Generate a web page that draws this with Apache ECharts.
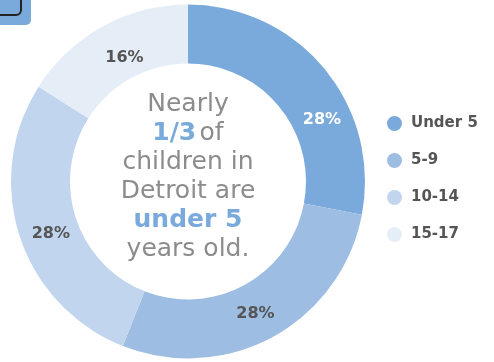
<!DOCTYPE html>
<html>
<head>
<meta charset="utf-8">
<script src="https://cdn.jsdelivr.net/npm/echarts@6/dist/echarts.min.js"></script>
<style>
  html, body { margin: 0; padding: 0; background: #fff; }
  #chart { width: 494px; height: 362px; }
</style>
</head>
<body>
<div id="chart"></div>
<script>
const categories = ["Under 5", "5-9", "10-14", "15-17"]
const shares = [28, 28, 28, 16]
const colors = ["#79aadb", "#9dbde2", "#c1d6ee", "#e5edf7"]

// nudges for the percent labels so they sit where the original puts them
const labelNudge = [[18, 34], [-5, 0], [6, 6], [9, 8]]

const chart = echarts.init(document.getElementById("chart"))

const option = {
  backgroundColor: "#fff",
  animation: false,
  legend: {
    orient: "vertical",
    left: 382,
    top: 111,
    itemWidth: 15,
    itemHeight: 15,
    itemGap: 22,
    icon: "circle",
    data: categories,
    textStyle: {
      fontFamily: "DejaVu Sans",
      fontSize: 15,
      fontWeight: "bold",
      color: "#555",
      padding: [0, 0, 0, 4],
    },
  },
  graphic: [
    {
      type: "rect",
      shape: { x: -10, y: -10, width: 41, height: 35, r: 5 },
      style: { fill: "#7aaadb" },
    },
    {
      type: "rect",
      shape: { x: -10, y: -10, width: 31, height: 25, r: 5 },
      style: { fill: "none", stroke: "#222", lineWidth: 2 },
    },
    {
      type: "text",
      x: 188,
      y: 177,
      style: {
        align: "center",
        verticalAlign: "middle",
        text: "{g|Nearly}\n{b|1/3} {g|of}\n{g|children in}\n{g|Detroit are}\n{b|under 5}\n{g|years old.}",
        rich: {
          g: { fontFamily: "DejaVu Sans", fontSize: 25, fill: "#8c8c8c", lineHeight: 29 },
          b: { fontFamily: "DejaVu Sans", fontSize: 25, fontWeight: "bold", fill: "#79aadb", lineHeight: 29 },
        },
      },
    },
  ],
  series: [
    {
      type: "pie",
      center: [188, 181.5],
      radius: [118, 177],
      startAngle: 90,
      clockwise: true,
      silent: true,
      label: {
        show: true,
        position: "inside",
        formatter: "{c}%",
        fontFamily: "DejaVu Sans",
        fontSize: 16,
        fontWeight: "bold",
        color: "#555",
      },
      labelLine: { show: false },
      labelLayout: function (params) {
        const n = labelNudge[params.dataIndex]
        return { dx: n[0], dy: n[1] }
      },
      data: categories.map((name, i) => ({
        name: name,
        value: shares[i],
        itemStyle: { color: colors[i] },
        label: i === 0 ? { color: "#fff" } : {},
      })),
    },
  ],
}

chart.setOption(option)
</script>
</body>
</html>
